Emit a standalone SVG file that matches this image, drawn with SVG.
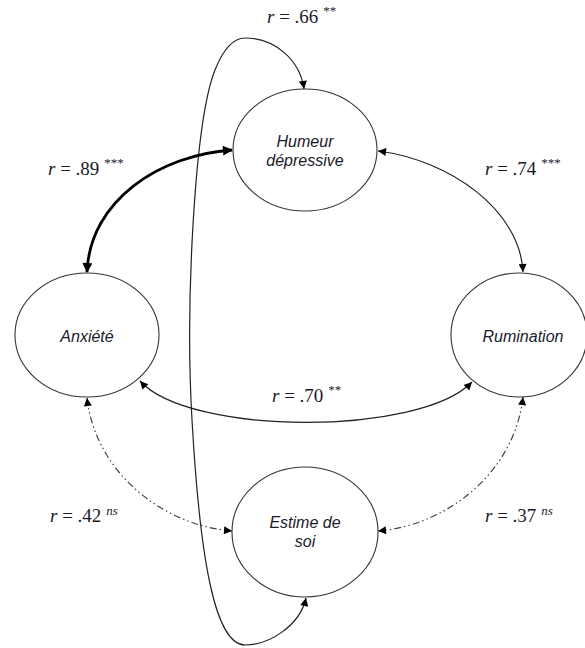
<svg xmlns="http://www.w3.org/2000/svg" width="585" height="648" viewBox="0 0 585 648">
<style>
.node{fill:#fff;stroke:#333;stroke-width:1.1}
.nt{font-family:"Liberation Sans",Arial,sans-serif;font-style:italic;font-size:16px;fill:#1a1a2a;text-anchor:middle}
.lb{font-family:"Liberation Serif","Times New Roman",serif;font-size:19px;fill:#1a1a2a}
.lb .i{font-style:italic}
.sup{font-size:13px}
.c{fill:none;stroke:#222;stroke-width:1.2}
.bold{stroke:#000;stroke-width:2.8}
.dd{stroke:#444;stroke-dasharray:7 3 1.5 3 1.5 3}
</style>
<defs>
<marker id="ah" viewBox="0 0 10 10" refX="10" refY="5" markerWidth="9" markerHeight="8" markerUnits="userSpaceOnUse" orient="auto-start-reverse">
<path d="M0,0 L10,5 L0,10 z" fill="#000"/>
</marker>
<marker id="ahb" viewBox="0 0 10 10" refX="9" refY="5" markerWidth="11" markerHeight="10" markerUnits="userSpaceOnUse" orient="auto-start-reverse">
<path d="M0,0 L10,5 L0,10 z" fill="#000"/>
</marker>
</defs>
<g id="connectors">
<path class="c" d="M306 598 C300 625 270 645 245 645 C215 645 200 560 192 420 C185 300 195 120 215 70 C225 45 235 38 245 38 C275 38 300 60 304 89" marker-start="url(#ah)" marker-end="url(#ah)"/>
<path class="c bold" d="M87 272 C90 200 160 155 232 150" marker-start="url(#ahb)" marker-end="url(#ahb)"/>
<path class="c" d="M378 151 C450 160 520 210 523 272" marker-start="url(#ah)" marker-end="url(#ah)"/>
<path class="c" d="M140 381 C190 436 420 436 472 382" marker-start="url(#ah)" marker-end="url(#ah)"/>
<path class="c dd" d="M87 398 C95 470 160 525 232 531" marker-start="url(#ah)" marker-end="url(#ah)"/>
<path class="c dd" d="M523 397 C515 470 450 525 378 531" marker-start="url(#ah)" marker-end="url(#ah)"/>
</g>
<g id="humeur">
<ellipse class="node" cx="305" cy="150" rx="72" ry="61"/>
<text class="nt" x="305" y="147">Humeur</text>
<text class="nt" x="305" y="166">dépressive</text>
</g>
<g id="anxiete">
<ellipse class="node" cx="87" cy="335" rx="72" ry="62"/>
<text class="nt" x="87" y="342">Anxiété</text>
</g>
<g id="rumination">
<ellipse class="node" cx="519" cy="335" rx="68" ry="62"/>
<text class="nt" x="523" y="342">Rumination</text>
</g>
<g id="estime">
<ellipse class="node" cx="305" cy="532" rx="73" ry="65"/>
<text class="nt" x="305" y="528">Estime de</text>
<text class="nt" x="305" y="547">soi</text>
</g>
<g id="labels">
<text class="lb" x="267" y="23"><tspan class="i">r</tspan> = .66 <tspan class="sup" dy="-8">**</tspan></text>
<text class="lb" x="48" y="175"><tspan class="i">r</tspan> = .89 <tspan class="sup" dy="-8">***</tspan></text>
<text class="lb" x="485" y="175"><tspan class="i">r</tspan> = .74 <tspan class="sup" dy="-8">***</tspan></text>
<text class="lb" x="272" y="402"><tspan class="i">r</tspan> = .70 <tspan class="sup" dy="-8">**</tspan></text>
<text class="lb" x="50" y="522"><tspan class="i">r</tspan> = .42 <tspan class="sup i" dy="-7">ns</tspan></text>
<text class="lb" x="485" y="522"><tspan class="i">r</tspan> = .37 <tspan class="sup i" dy="-7">ns</tspan></text>
</g>
</svg>
